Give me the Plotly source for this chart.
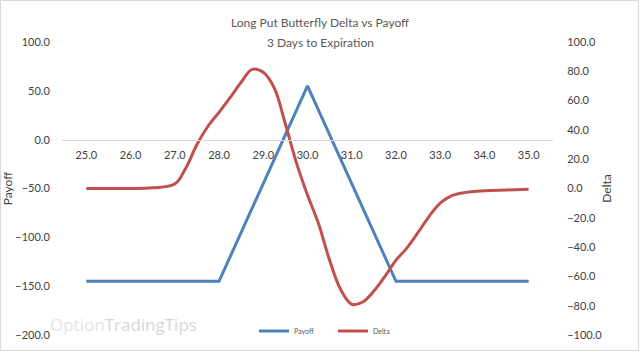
import plotly.graph_objects as go

# ---- data ----
strike_prices = [25, 26, 27, 28, 29, 30, 31, 32, 33, 34, 35]
payoff = [-145, -145, -145, -145, -45, 55, -45, -145, -145, -145, -145]

delta_prices = [25.0, 25.5, 26.0, 26.5, 27.0, 27.25, 27.5, 27.75, 28.0, 28.25, 28.5,
                28.75, 29.0, 29.25, 29.5, 29.75, 30.0, 30.25, 30.5, 30.75, 31.0, 31.25,
                31.5, 31.75, 32.0, 32.25, 32.5, 32.75, 33.0, 33.25, 33.5,
                34.0, 34.5, 35.0]
delta = [0, 0, 0, 0.5, 3, 14, 30, 42.5, 52, 62, 72.5,
         81.3, 79.3, 68.5, 44, 17.5, -4.5, -24, -49, -69, -79, -77.5,
         -70, -60, -49, -40.5, -30, -19, -10, -5, -3,
         -1.5, -1, -0.5]

x_ticks = [25, 26, 27, 28, 29, 30, 31, 32, 33, 34, 35]
x_tick_labels = ["25.0", "26.0", "27.0", "28.0", "29.0", "30.0", "31.0", "32.0", "33.0", "34.0", "35.0"]

title_line1 = "Long Put Butterfly Delta vs Payoff"
title_line2 = "3 Days to Expiration"

FONT = "Lato, Carlito, Calibri, sans-serif"
TXT = "#404040"

fig = go.Figure()
fig.add_trace(go.Scatter(x=strike_prices, y=payoff, name="Payoff", mode="lines",
                         line=dict(color="#4F81BD", width=3), yaxis="y"))
fig.add_trace(go.Scatter(x=delta_prices, y=delta, name="Delta", mode="lines",
                         line=dict(color="#C0504D", width=3, shape="spline", smoothing=1.0),
                         yaxis="y2"))

L, R, T, B = 62, 87, 42, 17
W, H = 640, 352
pw, ph = W - L - R, H - T - B

def px_x(p):
    return (p - L) / pw

def px_y(p):
    return (H - B - p) / ph

fig.update_layout(
    width=W, height=H,
    margin=dict(l=L, r=R, t=T, b=B, autoexpand=False),
    paper_bgcolor="white", plot_bgcolor="white",
    font=dict(family=FONT, size=11, color=TXT),
    showlegend=True,
    legend=dict(orientation="h", x=px_x(254), xanchor="left", y=px_y(331), yanchor="middle",
                font=dict(family=FONT, size=7, color="#595959"),
                bgcolor="rgba(0,0,0,0)", itemwidth=30, entrywidth=34, tracegroupgap=0),
    xaxis=dict(range=[24.45, 35.55], tickvals=x_ticks, ticktext=x_tick_labels,
               showgrid=False, zeroline=False, showline=True, linecolor="#d9d9d9", linewidth=1,
               anchor="free", position=2 / 3, ticks="outside", ticklen=5,
               tickcolor="rgba(0,0,0,0)", tickfont=dict(family=FONT, size=11, color=TXT)),
    yaxis=dict(range=[-200, 100], dtick=50, tick0=0, tickformat=".1f",
               showgrid=False, zeroline=False, showline=False,
               ticks="outside", ticklen=9, tickcolor="rgba(0,0,0,0)",
               title=dict(text="Payoff", font=dict(family=FONT, size=12, color=TXT), standoff=4),
               tickfont=dict(family=FONT, size=11, color=TXT)),
    yaxis2=dict(range=[-100, 100], dtick=20, tick0=0, tickformat=".1f", overlaying="y", side="right",
                showgrid=False, zeroline=False, showline=False,
                ticks="outside", ticklen=11, tickcolor="rgba(0,0,0,0)",
                title=dict(text="Delta", font=dict(family=FONT, size=12, color=TXT), standoff=1),
                tickfont=dict(family=FONT, size=11, color=TXT)),
)

# title lines
for txt, ypx in [(title_line1, 23), (title_line2, 42)]:
    fig.add_annotation(xref="paper", yref="paper", x=px_x(320), y=px_y(ypx),
                       xanchor="center", yanchor="middle", text=txt, showarrow=False,
                       font=dict(family=FONT, size=12, color="#595959"))

# watermark
fig.add_annotation(xref="paper", yref="paper", x=px_x(48), y=px_y(324), xanchor="left", yanchor="middle",
                   text="<span style='color:#e4e4e4'>Option</span><span style='color:#d6d6d6'>TradingTips</span>",
                   showarrow=False, font=dict(family="Open Sans, sans-serif", size=17))

# outer border
fig.add_shape(type="rect", xref="paper", yref="paper",
              x0=px_x(0.5), x1=px_x(638.5), y0=px_y(350.5), y1=px_y(0.5),
              line=dict(color="#d9d9d9", width=1), layer="below")

fig.write_html("out.html")
